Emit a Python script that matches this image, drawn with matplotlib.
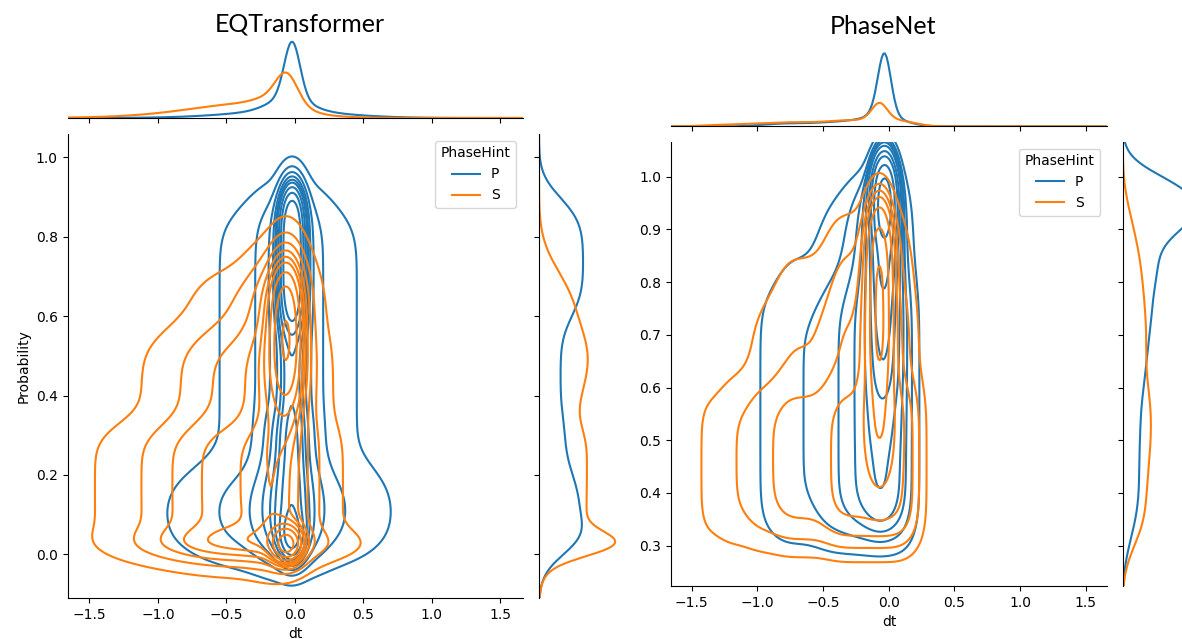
import math
import numpy as np
import matplotlib.pyplot as plt
from matplotlib.lines import Line2D

# Leyenda y colores por fase
hints = ["P", "S"]
colors = ["#1f77b4", "#ff7f0e"]

# Modelo de densidad.
# Cada fila: (dt_min, dt_max, dt_sd, prob_min, prob_max, prob_sd, peso)
# un bloque [min, max] suavizado con una gaussiana (min == max -> gaussiana)
eqt_P = [
    (-0.02, -0.02, 0.055, 0.60, 0.90, 0.05, 0.22),
    (-0.02, -0.02, 0.06, 0.00, 0.90, 0.04, 0.16),
    (-0.02, -0.02, 0.06, 0.00, 0.08, 0.03, 0.02),
    (-0.04, -0.04, 0.15, 0.00, 0.90, 0.05, 0.20),
    (-0.05, -0.05, 0.38, 0.00, 0.88, 0.06, 0.26),
    (-0.15, -0.15, 0.50, 0.00, 0.20, 0.05, 0.10),
    (-0.05, -0.05, 0.12, 0.00, 0.35, 0.04, 0.05),
]
eqt_S = [
    (-0.06, -0.06, 0.08, 0.40, 0.70, 0.08, 0.15),
    (-0.06, -0.06, 0.07, 0.00, 0.05, 0.025, 0.035),
    (-0.12, -0.12, 0.15, 0.00, 0.75, 0.06, 0.15),
    (-0.32, -0.32, 0.30, 0.00, 0.70, 0.05, 0.15),
    (-0.50, -0.50, 0.38, 0.00, 0.55, 0.05, 0.17),
    (-0.65, -0.65, 0.50, 0.00, 0.32, 0.04, 0.12),
    (-0.40, -0.40, 0.45, 0.00, 0.05, 0.025, 0.035),
]
eqt_frac = [0.47, 0.53]

pn_P = [
    (-1.05, 0.22, 0.08, 0.30, 0.80, 0.05, 0.12),
    (-0.88, 0.20, 0.09, 0.30, 0.95, 0.05, 0.10),
    (-0.50, 0.15, 0.09, 0.30, 1.00, 0.04, 0.06),
    (-0.30, 0.12, 0.08, 0.35, 1.00, 0.04, 0.06),
    (-0.06, -0.06, 0.09, 0.35, 1.00, 0.04, 0.05),
    (-0.05, -0.05, 0.08, 0.50, 1.00, 0.04, 0.027),
    (-0.04, -0.04, 0.06, 0.60, 1.00, 0.04, 0.094),
    (-0.04, -0.04, 0.05, 0.70, 1.00, 0.04, 0.07),
    (-0.03, -0.03, 0.05, 0.80, 1.00, 0.04, 0.096),
    (-0.03, -0.03, 0.045, 0.90, 1.00, 0.03, 0.18),
]
pn_S = [
    (-1.48, 0.28, 0.07, 0.30, 0.60, 0.04, 0.17),
    (-1.28, 0.25, 0.08, 0.30, 0.76, 0.05, 0.12),
    (-1.05, 0.22, 0.08, 0.30, 0.86, 0.05, 0.12),
    (-0.85, 0.18, 0.08, 0.30, 0.92, 0.05, 0.10),
    (-0.45, 0.15, 0.08, 0.30, 0.95, 0.04, 0.10),
    (-0.07, -0.07, 0.07, 0.45, 0.95, 0.05, 0.15),
    (-0.07, -0.07, 0.05, 0.62, 0.88, 0.05, 0.08),
]
pn_frac = [0.6, 0.4]

dt_lim = (-1.66, 1.665)
eqt_ylim = (-0.110, 1.059)
pn_ylim = (0.2235, 1.0665)


def smooth_box(grid, lo, hi, sd):
    if hi - lo < 1e-9:
        return np.exp(-0.5 * ((grid - lo) / sd) ** 2) / (sd * math.sqrt(2 * math.pi))
    a = np.array([math.erf(v) for v in (grid - lo) / (sd * math.sqrt(2))])
    b = np.array([math.erf(v) for v in (grid - hi) / (sd * math.sqrt(2))])
    return 0.5 * (a - b) / (hi - lo)


def mixture(comps, frac, xs, ys):
    total = sum(c[6] for c in comps)
    dens = np.zeros((len(ys), len(xs)))
    mx = np.zeros(len(xs))
    my = np.zeros(len(ys))
    for x0, x1, sx, y0, y1, sy, w in comps:
        fx = smooth_box(xs, x0, x1, sx)
        fy = smooth_box(ys, y0, y1, sy)
        k = frac * w / total
        dens += k * np.outer(fy, fx)
        mx += k * fx
        my += k * fy
    return dens, mx, my


fig = plt.figure(figsize=(11.82, 6.39), dpi=100)
W, H = 1182, 639


def px_axes(x0, y0, x1, y1):
    return fig.add_axes([x0 / W, 1 - y1 / H, (x1 - x0) / W, (y1 - y0) / H])


def draw_panel(title, title_xy, comps, fracs, ylim, box, marg, ylabel):
    x0, y0, x1, y1 = box
    ax = px_axes(x0, y0, x1, y1)
    ax_top = px_axes(x0, y0 - marg * 1.2, x1, y0 - marg * 0.2)
    ax_right = px_axes(x1 + marg * 0.2, y0, x1 + marg * 1.2, y1)

    xs = np.linspace(dt_lim[0] - 0.3, dt_lim[1] + 0.3, 320)
    ys = np.linspace(ylim[0] - 0.1, ylim[1] + 0.1, 320)
    dens_all, mxs, mys = [], [], []
    for comp, fr in zip(comps, fracs):
        d, mx, my = mixture(comp, fr, xs, ys)
        dens_all.append(d)
        mxs.append(mx)
        mys.append(my)

    # niveles de iso-proporción comunes (como seaborn, levels=10, thresh=0.05)
    values = np.ravel(dens_all)
    sorted_values = np.sort(values)[::-1]
    cum = np.cumsum(sorted_values) / values.sum()
    iso = np.linspace(0.05, 1, 10)
    levels = sorted_values[np.clip(np.searchsorted(cum, 1 - iso), 0, len(values) - 1)]
    levels = np.unique(levels)

    for d, mx, my, col in zip(dens_all, mxs, mys, colors):
        ax.contour(xs, ys, d, levels=levels, colors=col, linewidths=1.5)
        ax_top.plot(xs, mx, color=col, lw=1.5)
        ax_right.plot(my, ys, color=col, lw=1.5)

    ax.set_xlim(dt_lim)
    ax.set_ylim(ylim)
    ax.set_xlabel("dt")
    if ylabel:
        ax.set_ylabel(ylabel)
    ax.spines[["top", "right"]].set_visible(False)
    handles = [Line2D([], [], color=c, lw=1.5) for c in colors]
    ax.legend(handles, hints, title="PhaseHint", loc="upper right")

    ax_top.set_xlim(dt_lim)
    ax_top.set_ylim(0, 1.05 * max(m.max() for m in mxs))
    ax_top.set_xticks(ax.get_xticks())
    ax_top.set_xlim(dt_lim)
    ax_top.tick_params(labelbottom=False, left=False, labelleft=False)
    ax_top.spines[["top", "right", "left"]].set_visible(False)

    ax_right.set_ylim(ylim)
    ax_right.set_xlim(0, 1.05 * max(m.max() for m in mys))
    ax_right.set_yticks(ax.get_yticks())
    ax_right.set_ylim(ylim)
    ax_right.tick_params(labelleft=False, bottom=False, labelbottom=False)
    ax_right.spines[["top", "right", "bottom"]].set_visible(False)

    fig.text(title_xy[0] / W, 1 - title_xy[1] / H, title, ha="center", va="center",
             fontsize=18, family=["Lato", "DejaVu Sans"])


draw_panel("EQTransformer", (300, 24), (eqt_P, eqt_S), eqt_frac, eqt_ylim,
           (67.5, 134, 523, 598), 80, "Probability")
draw_panel("PhaseNet", (883, 27), (pn_P, pn_S), pn_frac, pn_ylim,
           (670.7, 141.7, 1107.3, 586), 76.6, None)

fig.savefig("out.png", dpi=100)
